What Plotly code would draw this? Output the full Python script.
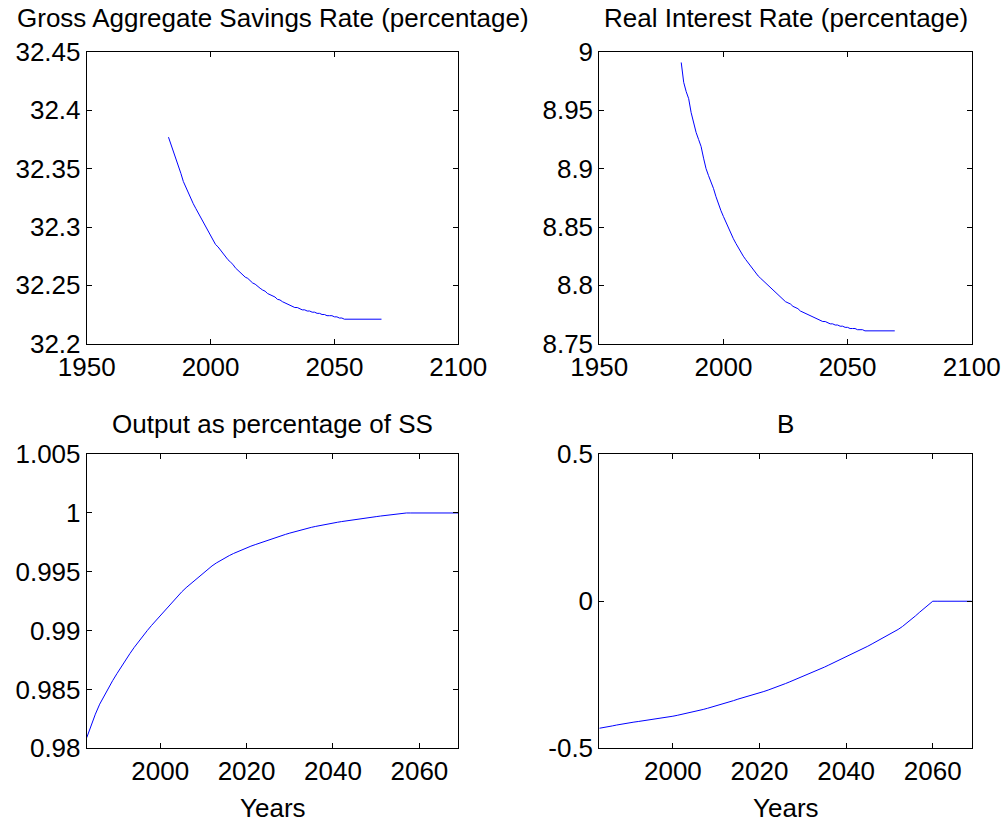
import plotly.graph_objects as go

years = list(range(1983, 2070))

savings_rate = [
    32.377, 32.371, 32.364, 32.358, 32.352, 32.346, 32.339, 32.334, 32.329, 32.324,
    32.320, 32.316, 32.312, 32.308, 32.304, 32.300, 32.296, 32.292, 32.289, 32.285,
    32.283, 32.280, 32.277, 32.275, 32.272, 32.270, 32.268, 32.265, 32.263, 32.261,
    32.259, 32.257, 32.256, 32.254, 32.252, 32.251, 32.249, 32.2475, 32.246, 32.245,
    32.243, 32.242, 32.241, 32.240, 32.238, 32.2375, 32.236, 32.235, 32.234, 32.233,
    32.232, 32.231, 32.231, 32.230, 32.229, 32.229, 32.228, 32.228, 32.227, 32.227,
    32.226, 32.226, 32.225, 32.225, 32.224, 32.224, 32.224, 32.223, 32.223, 32.222,
    32.222, 32.221, 32.221,
    32.221, 32.221, 32.221, 32.221, 32.221, 32.221, 32.221, 32.221, 32.221, 32.221,
    32.221, 32.221, 32.221, 32.221,
]

interest_rate = [
    8.991, 8.974, 8.966, 8.960, 8.948, 8.938, 8.931, 8.925, 8.919, 8.909,
    8.900, 8.894, 8.889, 8.883, 8.876, 8.869, 8.864, 8.859, 8.854, 8.849,
    8.845, 8.840, 8.836, 8.832, 8.829, 8.825, 8.822, 8.819, 8.816, 8.813,
    8.811, 8.808, 8.806, 8.804, 8.802, 8.800, 8.798, 8.796, 8.794, 8.792,
    8.790, 8.788, 8.786, 8.785, 8.784, 8.782, 8.781, 8.780, 8.778, 8.777,
    8.776, 8.775, 8.774, 8.773, 8.772, 8.771, 8.770, 8.769, 8.769, 8.768,
    8.767, 8.767, 8.766, 8.766, 8.765, 8.765, 8.764, 8.764, 8.763, 8.763,
    8.763, 8.762, 8.762, 8.762, 8.761, 8.761,
    8.761, 8.761, 8.761, 8.761, 8.761, 8.761, 8.761, 8.761, 8.761, 8.761, 8.761,
]

output_ss = [
    0.98090, 0.98195, 0.98290, 0.98375, 0.98445, 0.98510, 0.98575, 0.98635, 0.98695, 0.98750,
    0.98805, 0.98858, 0.98908, 0.98955, 0.99000, 0.99044, 0.99086, 0.99127, 0.99170, 0.99213,
    0.99255, 0.99295, 0.99330, 0.99365, 0.99397, 0.99430, 0.99462, 0.99493, 0.99522, 0.99550,
    0.99575, 0.99598, 0.99619, 0.99638, 0.99656, 0.99673, 0.99689, 0.99704, 0.99718, 0.99731,
    0.99744, 0.99758, 0.99771, 0.99783, 0.99795, 0.99807, 0.99818, 0.99829, 0.99840, 0.99850,
    0.99860, 0.99869, 0.99878, 0.99886, 0.99894, 0.99901, 0.99908, 0.99915, 0.99921, 0.99927,
    0.99933, 0.99939, 0.99944, 0.99949, 0.99954, 0.99959, 0.99964, 0.99969, 0.99974, 0.99979,
    0.99985, 0.99990, 0.99996,
    1.0, 1.0, 1.0, 1.0, 1.0, 1.0, 1.0, 1.0, 1.0, 1.0, 1.0, 1.0, 1.0, 1.0,
]

b_values = [
    -0.432, -0.430, -0.427, -0.424, -0.421, -0.418, -0.416, -0.414, -0.411, -0.409,
    -0.407, -0.404, -0.402, -0.400, -0.398, -0.396, -0.394, -0.391, -0.388, -0.385,
    -0.382, -0.379, -0.376, -0.372, -0.368, -0.364, -0.360, -0.355, -0.350, -0.346,
    -0.342, -0.338, -0.333, -0.329, -0.325, -0.321, -0.316, -0.312, -0.307, -0.302,
    -0.297, -0.292, -0.286, -0.280, -0.274, -0.268, -0.262, -0.256, -0.250, -0.243,
    -0.237, -0.230, -0.224, -0.217, -0.210, -0.204, -0.197, -0.190, -0.183, -0.175,
    -0.168, -0.160, -0.153, -0.145, -0.137, -0.129, -0.121, -0.113, -0.105, -0.096,
    -0.086, -0.075, -0.063, -0.050, -0.037, -0.025, -0.013, 0.0,
    0.0, 0.0, 0.0, 0.0, 0.0, 0.0, 0.0, 0.0, 0.0,
]

titles = ["Gross Aggregate Savings Rate (percentage)", "Real Interest Rate (percentage)",
          "Output as percentage of SS", "B"]
xlabel = "Years"

top_xticks = [1950, 2000, 2050, 2100]
bottom_xticks = [2000, 2020, 2040, 2060]
sav_ticks = [32.2, 32.25, 32.3, 32.35, 32.4, 32.45]
sav_labels = ["32.2", "32.25", "32.3", "32.35", "32.4", "32.45"]
ir_ticks = [8.75, 8.8, 8.85, 8.9, 8.95, 9]
ir_labels = ["8.75", "8.8", "8.85", "8.9", "8.95", "9"]
out_ticks = [0.98, 0.985, 0.99, 0.995, 1.0, 1.005]
out_labels = ["0.98", "0.985", "0.99", "0.995", "1", "1.005"]
b_ticks = [-0.5, 0, 0.5]
b_labels = ["-0.5", "0", "0.5"]

FONT = "Liberation Sans, Arial, sans-serif"
FS = 26
LINE = dict(color="#0000FF", width=1)

fig = go.Figure()
fig.add_trace(go.Scatter(x=years, y=savings_rate, mode="lines", line=LINE, xaxis="x", yaxis="y"))
fig.add_trace(go.Scatter(x=years, y=interest_rate, mode="lines", line=LINE, xaxis="x2", yaxis="y2"))
fig.add_trace(go.Scatter(x=years, y=output_ss, mode="lines", line=LINE, xaxis="x3", yaxis="y3"))
fig.add_trace(go.Scatter(x=years, y=b_values, mode="lines", line=LINE, xaxis="x4", yaxis="y4"))

xl_dom = [0.0863, 0.4560]
xr_dom = [0.5963, 0.9669]
yt_dom = [0.5834, 0.9370]
yb_dom = [0.0930, 0.4495]

common = dict(showline=True, linecolor="black", linewidth=1, mirror="allticks",
              ticks="inside", ticklen=5, tickwidth=1, tickcolor="black", automargin=False,
              showgrid=False, zeroline=False, tickfont=dict(family=FONT, size=FS, color="black"))

fig.update_layout(
    width=1005, height=825,
    margin=dict(l=0, r=0, t=0, b=0, autoexpand=False),
    paper_bgcolor="white", plot_bgcolor="white",
    showlegend=False,
    font=dict(family=FONT, size=FS, color="black"),
    xaxis=dict(domain=xl_dom, anchor="y", range=[1950, 2100], tickvals=top_xticks, **common),
    yaxis=dict(domain=yt_dom, anchor="x", range=[32.2, 32.45], tickvals=sav_ticks, ticktext=sav_labels, **common),
    xaxis2=dict(domain=xr_dom, anchor="y2", range=[1950, 2100], tickvals=top_xticks, **common),
    yaxis2=dict(domain=yt_dom, anchor="x2", range=[8.75, 9], tickvals=ir_ticks, ticktext=ir_labels, **common),
    xaxis3=dict(domain=xl_dom, anchor="y3", range=[1983, 2069], tickvals=bottom_xticks, **common),
    yaxis3=dict(domain=yb_dom, anchor="x3", range=[0.98, 1.005], tickvals=out_ticks, ticktext=out_labels, **common),
    xaxis4=dict(domain=xr_dom, anchor="y4", range=[1983, 2069], tickvals=bottom_xticks, **common),
    yaxis4=dict(domain=yb_dom, anchor="x4", range=[-0.5, 0.5], tickvals=b_ticks, ticktext=b_labels, **common),
)

def ann(text, x, y):
    fig.add_annotation(text=text, x=x, y=y, xref="paper", yref="paper", showarrow=False,
                       xanchor="center", yanchor="middle", font=dict(family=FONT, size=FS, color="black"))

ann(titles[0], sum(xl_dom) / 2, 0.9776)
ann(titles[1], sum(xr_dom) / 2, 0.9776)
ann(titles[2], sum(xl_dom) / 2, 0.486)
ann(titles[3], sum(xr_dom) / 2, 0.486)
ann(xlabel, sum(xl_dom) / 2, 0.0206)
ann(xlabel, sum(xr_dom) / 2, 0.0206)

fig.write_html("out.html")
